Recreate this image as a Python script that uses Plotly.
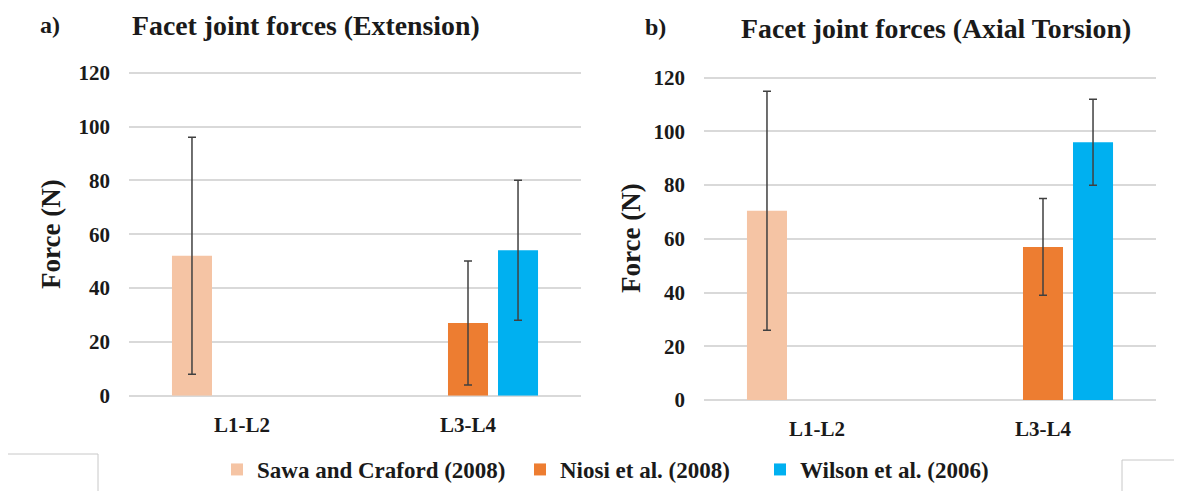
import plotly.graph_objects as go

# ---- data ----
categories = ["L1-L2", "L3-L4"]
series_names = ["Sawa and Craford (2008)", "Niosi et al. (2008)", "Wilson et al. (2006)"]

ext_sawa = [52, None]
ext_sawa_err = [44, None]
ext_niosi = [None, 27]
ext_niosi_err = [None, 23]
ext_wilson = [None, 54]
ext_wilson_err = [None, 26]

tor_sawa = [70.5, None]
tor_sawa_err = [44.5, None]
tor_niosi = [None, 57]
tor_niosi_err = [None, 18]
tor_wilson = [None, 96]
tor_wilson_err = [None, 16]

y_ticks = [0, 20, 40, 60, 80, 100, 120]

colors = ["#F5C4A4", "#ED7D31", "#00B0F0"]
FONT = "Liberation Serif, Times New Roman, serif"
TXT = "#1a1a1a"

# page body has an 8px margin; work in window pixel coordinates
OFF = 8
W, H = 1182 - OFF, 491 - OFF


def px(x):
    return (x - OFF) / W


def py(y):
    return (H - (y - OFF)) / H


YMAX = 121.0


def ydomain(y0_px, y120_px):
    per = (y0_px - y120_px) / 120.0
    top = y0_px - YMAX * per
    return [py(y0_px), py(top)]


legend_ids = ["legend", "legend2", "legend3"]
legend_text_x = [257, 560, 800]   # where each legend entry's text starts (window px)

fig = go.Figure()

panels = [
    ("x", "y", [ext_sawa, ext_niosi, ext_wilson], [ext_sawa_err, ext_niosi_err, ext_wilson_err], True),
    ("x2", "y2", [tor_sawa, tor_niosi, tor_wilson], [tor_sawa_err, tor_niosi_err, tor_wilson_err], False),
]
for xa, ya, vals, errs, show in panels:
    for name, v, e, c, lg in zip(series_names, vals, errs, colors, legend_ids):
        fig.add_trace(go.Bar(
            x=categories, y=v, name=name, marker=dict(color=c, line=dict(width=0)),
            xaxis=xa, yaxis=ya, showlegend=show, legendgroup=name, legend=lg,
            error_y=dict(type="data", array=e, visible=True, color="#404040",
                         thickness=1.5, width=4),
        ))

axis_common_y = dict(
    range=[0, YMAX], tickvals=y_ticks, showgrid=True, gridcolor="#D9D9D9", gridwidth=1.5,
    zeroline=True, zerolinecolor="#D9D9D9", zerolinewidth=1.5, showline=False,
    ticks="", ticklabelstandoff=18, automargin=False,
    tickfont=dict(family=FONT, size=21, color=TXT, weight="bold"),
)
axis_common_x = dict(
    showgrid=False, zeroline=False, showline=False, ticks="", ticklabelstandoff=14,
    automargin=False,
    tickfont=dict(family=FONT, size=21, color=TXT, weight="bold"), range=[-0.5, 1.5],
)

legend_style = dict(orientation="h", xanchor="left", y=0, yanchor="bottom",
                    font=dict(family=FONT, size=23, color=TXT, weight="bold"),
                    bgcolor="rgba(0,0,0,0)", borderwidth=0, itemwidth=30, tracegroupgap=0)

fig.update_layout(
    template="none",
    width=W, height=H,
    margin=dict(l=0, r=0, t=0, b=0, pad=0),
    paper_bgcolor="white", plot_bgcolor="white",
    barmode="group", bargap=0.336, bargroupgap=0.2,
    xaxis=dict(domain=[px(129), px(581)], anchor="y", **axis_common_x),
    yaxis=dict(domain=ydomain(395.7, 72.7), anchor="x", **axis_common_y),
    xaxis2=dict(domain=[px(704), px(1156)], anchor="y2", **axis_common_x),
    yaxis2=dict(domain=ydomain(400, 77.7), anchor="x2", **axis_common_y),
    font=dict(family=FONT, color=TXT),
)
for lg, tx in zip(legend_ids, legend_text_x):
    fig.update_layout({lg: dict(x=px(tx - 40), **legend_style)})


def ann(text, x, y, size, angle=0):
    fig.add_annotation(text=text, x=px(x), y=py(y), xref="paper", yref="paper",
                       showarrow=False, xanchor="center", yanchor="middle", textangle=angle,
                       font=dict(family=FONT, size=size, color=TXT, weight="bold"))


ann("a)", 50, 25, 24)
ann("Facet joint forces (Extension)", 306, 25, 27.8)
ann("b)", 655, 27, 24)
ann("Facet joint forces (Axial Torsion)", 936, 28, 27.8)
ann("Force (N)", 51, 234, 27, -90)
ann("Force (N)", 631, 238, 27, -90)

# faint boxes at the bottom corners of the source image
fig.add_shape(type="rect", xref="paper", yref="paper", x0=px(5), x1=px(98), y0=-0.05, y1=py(454),
              line=dict(color="#C8C8C8", width=1), fillcolor="rgba(0,0,0,0)")
fig.add_shape(type="rect", xref="paper", yref="paper", x0=px(1122), x1=1.05, y0=-0.05, y1=py(460),
              line=dict(color="#C8C8C8", width=1), fillcolor="rgba(0,0,0,0)")

fig.write_html("out.html")
